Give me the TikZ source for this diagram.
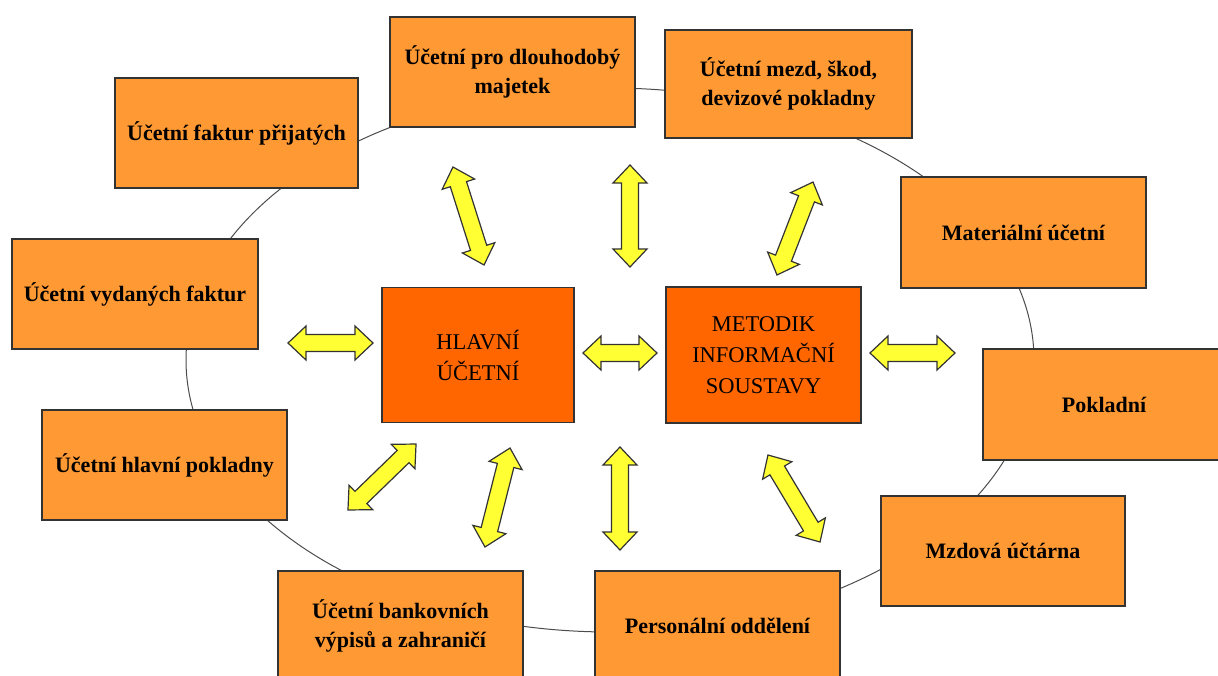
\documentclass[tikz,border=0pt]{standalone}
\usepackage{fontspec}
\setmainfont{Liberation Serif}
\definecolor{outerfill}{HTML}{FF9933}
\definecolor{centerfill}{HTML}{FF6600}
\definecolor{boxline}{HTML}{333333}
\definecolor{arrfill}{HTML}{FFFF33}
\newcommand\dblarrow[4]{%
  \draw[yarrow, shift={(#1,#2)}, rotate=#3]
    ({-#4/2},0) -- ({-#4/2+18},17) -- ({-#4/2+18},8.5) -- ({#4/2-18},8.5) --
    ({#4/2-18},17) -- ({#4/2},0) -- ({#4/2-18},-17) -- ({#4/2-18},-8.5) --
    ({-#4/2+18},-8.5) -- ({-#4/2+18},-17) -- cycle;}
\begin{document}
\begin{tikzpicture}[x=1pt,y=-1pt,
  obox/.style={draw=boxline, line width=1.4pt, fill=outerfill, inner sep=0pt,
    align=center, font=\fontsize{22}{29}\selectfont\bfseries,
    minimum width=245pt, minimum height=110pt},
  cbox/.style={draw=boxline, line width=1.4pt, fill=centerfill, inner sep=0pt,
    align=center, font=\fontsize{22.5}{31}\selectfont,
    minimum width=194pt, minimum height=135pt},
  yarrow/.style={draw=black!80, line width=1.2pt, fill=arrfill, line join=miter}]
\clip (0,0) rectangle (1218,675);
\useasboundingbox (0,0) rectangle (1218,675);
\draw[black!70, line width=1pt] (610,360) ellipse [x radius=424, y radius=272];
% outer boxes
\node[obox, minimum width=243pt] (n1) at (236.5,133) {Účetní faktur přijatých};
\node[obox] (n2) at (512.5,72) {Účetní pro dlouhodobý\\majetek};
\node[obox, minimum width=247pt, minimum height=108pt] (n3) at (788.5,84) {Účetní mezd, škod,\\devizové pokladny};
\node[obox, minimum height=111pt] (n4) at (1023.5,232.5) {Materiální účetní};
\node[obox, minimum width=242pt, minimum height=111pt] (n5) at (1104,404.5) {Pokladní};
\node[obox, minimum width=244pt] (n6) at (1003,551) {Mzdová účtárna};
\node[obox] (n7) at (717.5,626) {Personální oddělení};
\node[obox] (n8) at (400.5,626) {Účetní bankovních\\výpisů a zahraničí};
\node[obox] (n9) at (164.5,465) {Účetní hlavní pokladny};
\node[obox, minimum width=246pt] (n10) at (135,294) {Účetní vydaných faktur};
% center boxes
\node[cbox, minimum width=192pt] (c1) at (478,355) {HLAVNÍ\\ÚČETNÍ};
\node[cbox, minimum width=195pt, minimum height=136pt] (c2) at (763.5,355) {METODIK\\INFORMAČNÍ\\SOUSTAVY};
% double arrows
\dblarrow{468.5}{216}{-72.4}{102.8}
\dblarrow{630}{216}{90}{102}
\dblarrow{795}{228.5}{68.8}{99.7}
\dblarrow{330.5}{343}{0}{85}
\dblarrow{620}{353}{0}{74}
\dblarrow{912.5}{353}{0}{85}
\dblarrow{382}{477}{44.1}{94.8}
\dblarrow{497.5}{497.5}{75.8}{102.1}
\dblarrow{620}{498.5}{90}{103}
\dblarrow{794}{498.5}{-59.1}{101.4}
\end{tikzpicture}
\end{document}
